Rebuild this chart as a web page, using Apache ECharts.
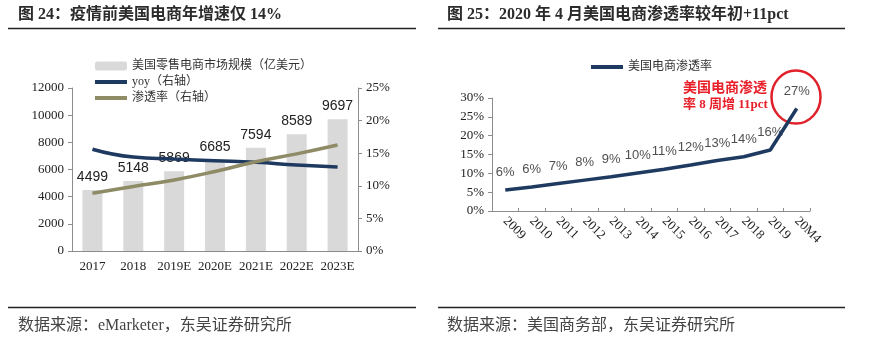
<!DOCTYPE html>
<html>
<head>
<meta charset="utf-8">
<script src="https://cdn.jsdelivr.net/npm/echarts@6/dist/echarts.min.js"></script>
<style>
  html, body { margin: 0; padding: 0; background: #fff; }
  #chart { width: 872px; height: 346px; }
</style>
</head>
<body>
<div id="chart"></div>
<script>
// Figure 24: US retail e-commerce size, yoy growth and penetration
const years24 = ['2017', '2018', '2019E', '2020E', '2021E', '2022E', '2023E'];
const marketSize = [4499, 5148, 5869, 6685, 7594, 8589, 9697];   // 亿美元
const yoyGrowth = [15.6, 14.4, 14.1, 13.85, 13.6, 13.2, 12.9];   // %
const penetration24 = [8.85, 9.9, 10.9, 12.2, 13.7, 14.9, 16.25]; // %
const leftTicks = { min: 0, max: 12000, interval: 2000 };
const rightTicks = { min: 0, max: 25, interval: 5 };

// Figure 25: US e-commerce penetration by year
const years25 = ['2009', '2010', '2011', '2012', '2013', '2014', '2015', '2016', '2017', '2018', '2019', '20M4'];
const penetration25 = [5.6, 6.4, 7.3, 8.2, 9.1, 10.1, 11.1, 12.2, 13.4, 14.4, 16.2, 27.2]; // %
const ticks25 = { min: 0, max: 30, interval: 5 };

const serif = '"Liberation Serif", "Times New Roman", "Noto Sans CJK SC", serif';
const sans = '"Liberation Sans", Arial, sans-serif';
const cjk = '"Liberation Serif", "Noto Sans CJK SC", serif';
const navy = '#1f3a60';
const olive = '#8e8b66';
const axisGray = '#8c8c8c';
const textDark = '#222';

const chart = echarts.init(document.getElementById('chart'), null, { renderer: 'canvas' });

function valueAxis(ticks, gridIndex, position, fmt) {
  return {
    type: 'value', gridIndex, position,
    min: ticks.min, max: ticks.max, interval: ticks.interval,
    splitLine: { show: false },
    axisLine: { show: true, lineStyle: { color: axisGray, width: 1 } },
    axisTick: { show: true, length: 4, lineStyle: { color: axisGray } },
    axisLabel: { color: textDark, fontFamily: serif, fontSize: 13, margin: 8, formatter: fmt }
  };
}

// line entries in the legend: plain thick stroke, no marker
const lineEntry = (name) => ({ name, itemStyle: { opacity: 0 }, lineStyle: { width: 4 } });

const option = {
  animation: false,
  backgroundColor: '#fff',
  grid: [
    { left: 72, top: 88, width: 286, height: 163 },
    { left: 492, top: 98, width: 318, height: 113 }
  ],
  legend: [
    {
      orient: 'vertical', left: 93, top: 60, padding: 0, itemWidth: 32, itemHeight: 9, itemGap: 4,
      textStyle: { fontFamily: cjk, fontSize: 12, color: '#333', lineHeight: 12 },
      data: ['美国零售电商市场规模（亿美元）', lineEntry('yoy（右轴）'), lineEntry('渗透率（右轴）')]
    },
    {
      orient: 'horizontal', left: 589, top: 61, padding: 0, itemWidth: 32, itemHeight: 9,
      textStyle: { fontFamily: cjk, fontSize: 12, color: '#333' },
      data: [lineEntry('美国电商渗透率')]
    }
  ],
  xAxis: [
    {
      type: 'category', gridIndex: 0, data: years24, boundaryGap: true,
      axisLine: { lineStyle: { color: axisGray } },
      axisTick: { show: false },
      axisLabel: { color: textDark, fontFamily: serif, fontSize: 13, margin: 9, interval: 0 }
    },
    {
      type: 'category', gridIndex: 1, data: years25, boundaryGap: true,
      axisLine: { lineStyle: { color: axisGray } },
      axisTick: { show: true, inside: true, length: 3, lineStyle: { color: axisGray } },
      axisLabel: { color: textDark, fontFamily: serif, fontSize: 13, rotate: -45, margin: 8, interval: 0 }
    }
  ],
  yAxis: [
    valueAxis(leftTicks, 0, 'left', v => String(v)),
    valueAxis(rightTicks, 0, 'right', '{value}%'),
    valueAxis(ticks25, 1, 'left', '{value}%')
  ],
  series: [
    {
      name: '美国零售电商市场规模（亿美元）', type: 'bar', xAxisIndex: 0, yAxisIndex: 0,
      data: marketSize, barWidth: 20,
      itemStyle: { color: '#d9d9d9' },
      label: { show: true, position: 'top', distance: 6, color: textDark, fontFamily: sans, fontSize: 14 }
    },
    {
      name: 'yoy（右轴）', type: 'line', xAxisIndex: 0, yAxisIndex: 1,
      data: yoyGrowth, smooth: true, symbol: 'none',
      lineStyle: { color: navy, width: 3.5 }, itemStyle: { color: navy }
    },
    {
      name: '渗透率（右轴）', type: 'line', xAxisIndex: 0, yAxisIndex: 1,
      data: penetration24, smooth: true, symbol: 'none',
      lineStyle: { color: olive, width: 3.5 }, itemStyle: { color: olive }
    },
    {
      name: '美国电商渗透率', type: 'line', xAxisIndex: 1, yAxisIndex: 2,
      data: penetration25, smooth: false, symbol: 'none',
      lineStyle: { color: navy, width: 3.5 }, itemStyle: { color: navy }
    },
    {
      // value labels for the penetration line
      name: 'labels25', type: 'scatter', xAxisIndex: 1, yAxisIndex: 2,
      data: penetration25, symbolSize: 0, silent: true,
      label: {
        show: true, position: 'top', distance: 11, color: textDark, fontFamily: sans, fontSize: 13,
        formatter: p => Math.round(p.value) + '%'
      }
    }
  ],
  graphic: [
    // headings
    { type: 'text', left: 18, top: 7, style: { text: '图 24：疫情前美国电商年增速仅 14%', font: 'bold 16px ' + cjk, fill: '#2b2b2b' } },
    { type: 'text', left: 447, top: 7, style: { text: '图 25：2020 年 4 月美国电商渗透率较年初+11pct', font: 'bold 16px ' + cjk, fill: '#2b2b2b' } },
    { type: 'line', shape: { x1: 8, y1: 28.5, x2: 416, y2: 28.5 }, style: { stroke: '#222', lineWidth: 1.5 } },
    { type: 'line', shape: { x1: 438, y1: 28.5, x2: 845, y2: 28.5 }, style: { stroke: '#222', lineWidth: 1.5 } },
    // sources
    { type: 'line', shape: { x1: 8, y1: 307.5, x2: 416, y2: 307.5 }, style: { stroke: '#222', lineWidth: 1.3 } },
    { type: 'line', shape: { x1: 438, y1: 307.5, x2: 845, y2: 307.5 }, style: { stroke: '#222', lineWidth: 1.3 } },
    { type: 'text', left: 18, top: 318, style: { text: '数据来源：eMarketer，东吴证券研究所', font: '16px ' + cjk, fill: '#444' } },
    { type: 'text', left: 447, top: 318, style: { text: '数据来源：美国商务部，东吴证券研究所', font: '16px ' + cjk, fill: '#444' } },
    // callout
    { type: 'text', left: 683, top: 81, style: { text: '美国电商渗透', font: 'bold 14px ' + cjk, fill: '#e8202a' } },
    { type: 'text', left: 683, top: 98, style: { text: '率 8 周增 11pct', font: 'bold 13px ' + cjk, fill: '#e8202a' } },
    { type: 'ellipse', shape: { cx: 796, cy: 97, rx: 24.5, ry: 26.5 }, style: { stroke: '#e0202a', lineWidth: 2.5, fill: 'none' } }
  ]
};

chart.setOption(option);
</script>
</body>
</html>
